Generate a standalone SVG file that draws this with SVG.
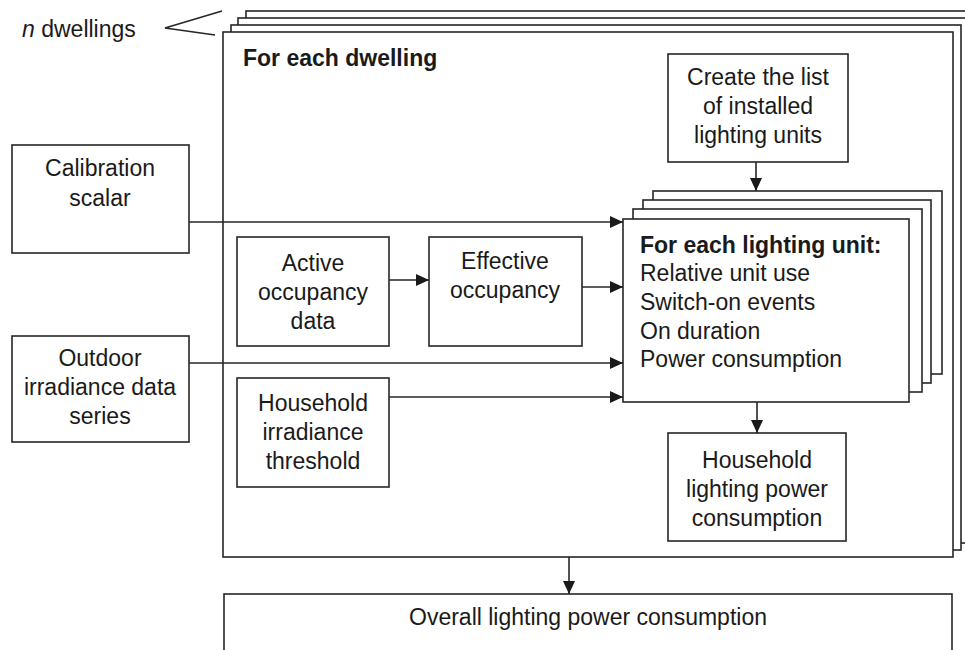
<svg xmlns="http://www.w3.org/2000/svg" width="965" height="650" viewBox="0 0 965 650">
  <defs>
    <marker id="arrow" viewBox="0 0 13 12" refX="13" refY="6" markerWidth="13" markerHeight="12" markerUnits="userSpaceOnUse" orient="auto">
      <path d="M0,0 L13,6 L0,12 Z" fill="#1a1a1a"/>
    </marker>
  </defs>
  <style>
    .box { fill: #ffffff; stroke: #262626; stroke-width: 1.6; }
    .txt { font-family: "Liberation Sans", Arial, sans-serif; font-size: 23px; fill: #1a1a1a; }
    .mid { text-anchor: middle; }
    .bold { font-weight: bold; }
    .conn { fill: none; stroke: #262626; stroke-width: 1.6; }
    .arr { marker-end: url(#arrow); }
  </style>
  <rect width="965" height="650" fill="#ffffff"/>

  <!-- stacked dwelling frames -->
  <g id="dwelling-stack">
    <rect class="box" x="246" y="11" width="730" height="525"/>
    <rect class="box" x="238" y="18" width="730" height="525"/>
    <rect class="box" x="231" y="25" width="730" height="525"/>
    <rect class="box" x="223" y="32" width="730" height="525"/>
    <text class="txt bold" x="243" y="66">For each dwelling</text>
  </g>

  <g id="n-dwellings">
    <polyline class="conn" points="222,11 165,28 215,35" stroke-width="1.3"/>
    <text class="txt" x="22" y="37"><tspan font-style="italic">n</tspan> dwellings</text>
  </g>

  <g id="calibration">
    <rect class="box" x="12" y="145" width="177" height="108"/>
    <text class="txt mid" x="100" y="176">Calibration</text>
    <text class="txt mid" x="100" y="206">scalar</text>
  </g>

  <g id="outdoor">
    <rect class="box" x="12" y="336" width="177" height="106"/>
    <text class="txt mid" x="100" y="366">Outdoor</text>
    <text class="txt mid" x="100" y="395">irradiance data</text>
    <text class="txt mid" x="100" y="424">series</text>
  </g>

  <g id="create-list">
    <rect class="box" x="668" y="54" width="180" height="108"/>
    <text class="txt mid" x="758" y="85">Create the list</text>
    <text class="txt mid" x="758" y="114">of installed</text>
    <text class="txt mid" x="758" y="143">lighting units</text>
  </g>

  <g id="active-occupancy">
    <rect class="box" x="237" y="237" width="152" height="109"/>
    <text class="txt mid" x="313" y="271">Active</text>
    <text class="txt mid" x="313" y="300">occupancy</text>
    <text class="txt mid" x="313" y="329">data</text>
  </g>

  <g id="effective-occupancy">
    <rect class="box" x="429" y="237" width="153" height="109"/>
    <text class="txt mid" x="505" y="269">Effective</text>
    <text class="txt mid" x="505" y="298">occupancy</text>
  </g>

  <g id="irradiance-threshold">
    <rect class="box" x="237" y="378" width="152" height="109"/>
    <text class="txt mid" x="313" y="411">Household</text>
    <text class="txt mid" x="313" y="440">irradiance</text>
    <text class="txt mid" x="313" y="469">threshold</text>
  </g>

  <g id="lighting-unit">
    <rect class="box" x="653" y="191" width="289" height="183"/>
    <rect class="box" x="643" y="200" width="288" height="183"/>
    <rect class="box" x="633" y="209" width="289" height="183"/>
    <rect class="box" x="623" y="219" width="286" height="183"/>
    <text class="txt bold" x="640" y="253">For each lighting unit:</text>
    <text class="txt" x="640" y="281">Relative unit use</text>
    <text class="txt" x="640" y="310">Switch-on events</text>
    <text class="txt" x="640" y="339">On duration</text>
    <text class="txt" x="640" y="367">Power consumption</text>
  </g>

  <g id="household-power">
    <rect class="box" x="668" y="433" width="178" height="108"/>
    <text class="txt mid" x="757" y="468">Household</text>
    <text class="txt mid" x="757" y="497">lighting power</text>
    <text class="txt mid" x="757" y="526">consumption</text>
  </g>

  <g id="overall-power">
    <rect class="box" x="224" y="594" width="728" height="100"/>
    <text class="txt mid" x="588" y="625">Overall lighting power consumption</text>
  </g>

  <!-- connectors -->
  <g id="connectors">
    <line class="conn arr" x1="189" y1="222" x2="623" y2="222"/>
    <line class="conn arr" x1="189" y1="363" x2="623" y2="363"/>
    <line class="conn arr" x1="389" y1="397" x2="623" y2="397"/>
    <line class="conn arr" x1="582" y1="287" x2="623" y2="287"/>
    <line class="conn arr" x1="389" y1="280" x2="429" y2="280"/>
    <line class="conn arr" x1="756" y1="162" x2="756" y2="191"/>
    <line class="conn arr" x1="757" y1="402" x2="757" y2="433"/>
    <line class="conn arr" x1="569" y1="557" x2="569" y2="594"/>
  </g>
</svg>
